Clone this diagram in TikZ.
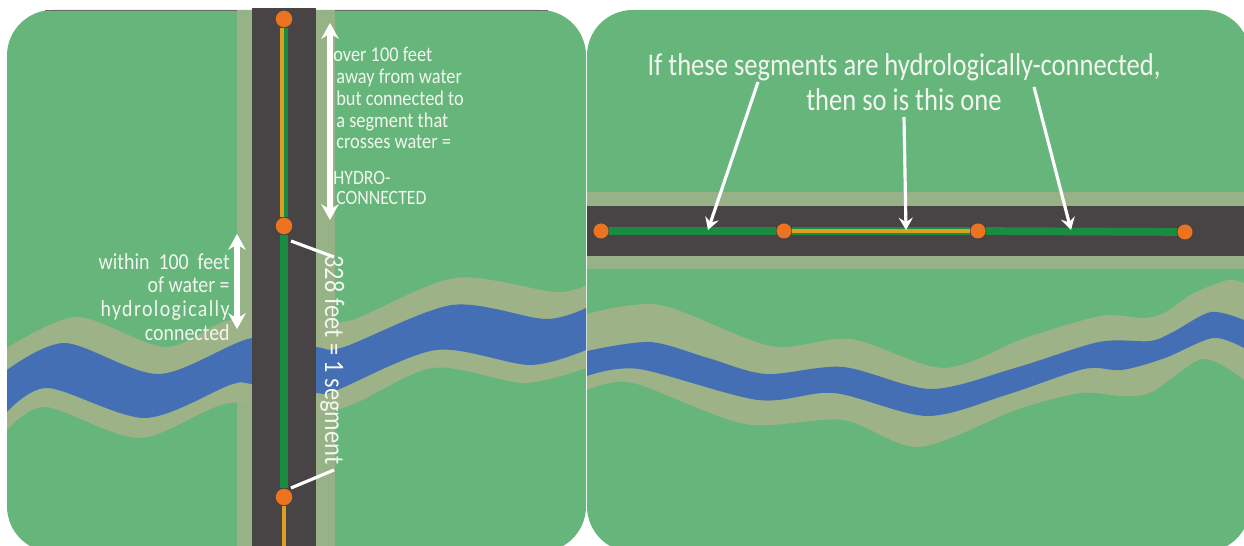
\documentclass[tikz,border=0pt]{standalone}
\usepackage{fontspec}
\setmainfont{Carlito}
\newfontfamily\condfont[FakeStretch=0.87]{Carlito}
\newfontfamily\headfont[FakeStretch=0.84]{Carlito}
\usetikzlibrary{arrows.meta, positioning}
\definecolor{panelgreen}{HTML}{66B57B}
\definecolor{vergegreen}{HTML}{97B286}
\definecolor{rivervine}{HTML}{9DB287}
\definecolor{riverblue}{HTML}{446FB5}
\definecolor{roadgrey}{HTML}{484446}
\definecolor{dotorange}{HTML}{EC7420}
\definecolor{seggreen}{HTML}{1A8C40}
\definecolor{seggold}{HTML}{D9A021}
\definecolor{labelwhite}{HTML}{F2F6EF}
\tikzset{
	dotnode/.style={circle, fill=dotorange, inner sep=0pt, minimum size=#1},
	dotnode/.default=0.33cm,
	greenseg/.style={seggreen, line width=4.4pt},
	goldseg/.style={seggold, line width=1.9pt},
	bigarrow/.style={{Stealth[length=9pt, width=10pt, inset=3pt]}-{Stealth[length=9pt, width=10pt, inset=3pt]}, white, line width=2.9pt},
	thinarrow/.style={-{Stealth[length=7pt, width=8pt, inset=2.5pt]}, white, line width=1.8pt},
	tickline/.style={white, line width=1.8pt},
	lefttext/.style={text=labelwhite, font=\condfont\fontsize{12}{12.4}\selectfont, inner sep=0pt}
}
\begin{document}
\begin{tikzpicture}[x=0.02cm, y=-0.02cm]
	\useasboundingbox (0,0) rectangle (1244,546);
	\fill[white] (0,0) rectangle (1244,546);

	% Left panel
	\fill[panelgreen, rounded corners=26pt] (7,10) rectangle (586,552);
	\draw[roadgrey!80, line width=0.6pt] (45,10.5) -- (548,10.5);

	% Road verge (left)
	\fill[vergegreen] (237,10) rectangle (335,546);

	% River with verge (left)
	\fill[rivervine] plot[smooth] coordinates {(7,348) (77,317) (165,347) (230,320) (316,320) (352,320) (455,278) (555,292) (586,285)}
		-- plot[smooth] coordinates {(586,368) (524,383) (432,368) (335,410) (230,403) (140,438) (46,407) (7,430)} -- cycle;
	\fill[riverblue] plot[smooth] coordinates {(7,370) (65,343) (159,374) (252,338) (316,347) (344,347) (452,305) (545,319) (586,308)}
		-- plot[smooth] coordinates {(586,350) (530,365) (436,350) (337,390) (316,393) (252,384) (230,385) (145,418) (48,388) (7,412)} -- cycle;

	% Road (left)
	\fill[roadgrey] (252,8) rectangle (316,546);

	\node[dotnode] (dotA) at (284,19) {};
	\node[dotnode] (dotB) at (284,226) {};
	\node[dotnode] (dotC) at (284,497) {};
	\coordinate (roadEnd) at (284,546);
	\draw[greenseg] (dotA) -- (dotB);
	\draw[goldseg] ([xshift=-0.04cm]dotA.south) -- ([xshift=-0.04cm]dotB.north);
	\draw[greenseg] (dotB) -- (dotC);
	\draw[goldseg] (dotC) -- (roadEnd);

	% Distance arrows
	\coordinate (farTop) at (330,23);
	\coordinate (farBot) at (330,220);
	\coordinate (nearTop) at (237,234);
	\coordinate (nearBot) at (237,329);
	\draw[bigarrow] (farTop) -- (farBot);
	\draw[bigarrow] (nearTop) -- (nearBot);

	% Segment label
	\node[lefttext, rotate=-90, anchor=base, font=\condfont\fontsize{16}{17}\selectfont] (segLabel) at (325,360) {328 feet = 1 segment};
	\coordinate (tickA) at (291,241);
	\coordinate (tickB) at (334,257);
	\coordinate (tickC) at (291,488);
	\coordinate (tickD) at (334,470);
	\draw[tickline] (tickA) -- (tickB);
	\draw[tickline] (tickC) -- (tickD);

	% Labels (left)
	\node[lefttext, anchor=north west, align=left] (farText) at (333,47) {over 100 feet\\\hspace*{1.7pt}away from water\\\hspace*{1.7pt}but connected to\\\hspace*{1.7pt}a segment that\\\hspace*{1.7pt}crosses water =};
	\node[lefttext, anchor=north west, align=left, font=\condfont\fontsize{11.6}{11.2}\selectfont] (hydroText) at (333,171) {HYDRO-\\\hspace*{1.7pt}CONNECTED};
	\node[lefttext, anchor=north east, align=right, font=\condfont\fontsize{13}{13.5}\selectfont] (nearText) at (230,253) {within\ \ 100\ \ feet\\of water =\\{\addfontfeatures{LetterSpace=6}hydrologically}\\connected};

	% Right panel
	\fill[panelgreen, rounded corners=26pt] (587,10) rectangle (1250,552);

	% River with verge (right)
	\fill[rivervine] plot[smooth] coordinates {(587,314) (660,305) (771,346) (851,339) (944,368) (1025,338) (1101,316) (1143,318) (1164,313) (1194,293) (1228,280) (1244,283)}
		-- plot[smooth] coordinates {(1244,380) (1203,359) (1152,392) (1122,396) (1080,393) (1016,410) (919,447) (843,420) (745,424) (633,383) (587,390)} -- cycle;
	\fill[riverblue] plot[smooth] coordinates {(587,351) (650,342) (708,358) (766,374) (843,367) (931,389) (1015,368) (1099,342) (1150,341) (1173,332) (1211,312) (1244,320)}
		-- plot[smooth] coordinates {(1244,348) (1213,338) (1165,358) (1122,370) (1084,369) (1006,395) (927,416) (834,393) (758,400) (639,369) (587,376)} -- cycle;

	% Road (right)
	\fill[vergegreen] (587,192) rectangle (1244,269);
	\fill[roadgrey] (587,206) rectangle (1244,256);

	\node[dotnode=0.3cm] (dotP) at (601,231) {};
	\node[dotnode=0.3cm] (dotQ) at (784,231) {};
	\node[dotnode=0.3cm] (dotR) at (978,231) {};
	\node[dotnode=0.3cm] (dotS) at (1185,232) {};
	\draw[greenseg] (dotP) -- (dotQ);
	\draw[greenseg] (dotQ) -- (dotR);
	\draw[goldseg, line width=2.8pt] (dotQ) -- (dotR);
	\draw[greenseg] (dotR) -- (dotS);

	% Heading and arrows (right)
	\node[lefttext, font=\headfont\fontsize{18}{19.8}\selectfont, align=center] (headText) at (904,82) {If these segments are hydrologically-connected,\\then so is this one};
	\coordinate (arrStartA) at (758,82);
	\coordinate (arrEndA) at (708,230);
	\coordinate (arrStartB) at (904,117);
	\coordinate (arrEndB) at (906,230);
	\coordinate (arrStartC) at (1034,87);
	\coordinate (arrEndC) at (1071,230);
	\draw[thinarrow] (arrStartA) -- (arrEndA);
	\draw[thinarrow] (arrStartB) -- (arrEndB);
	\draw[thinarrow] (arrStartC) -- (arrEndC);
\end{tikzpicture}
\end{document}
